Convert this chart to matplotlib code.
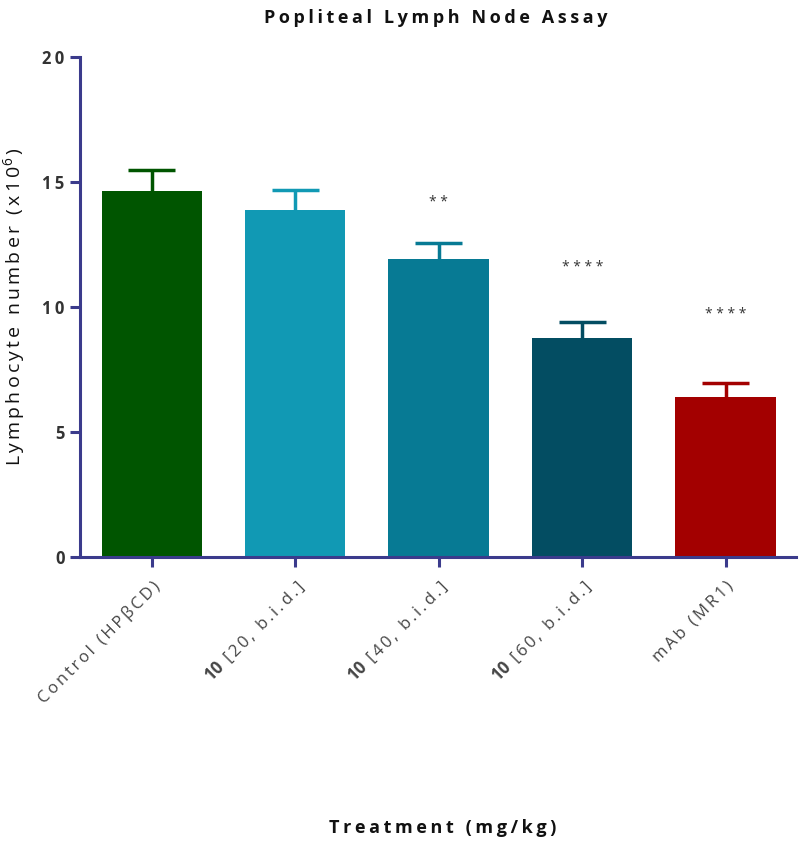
import matplotlib.pyplot as plt

# Datos
groups = ['Control (HPβCD)', '[20, b.i.d.]', '[40, b.i.d.]', '[60, b.i.d.]', 'mAb (MR1)']
bold_prefix = ['', '10', '10', '10', '']
means = [14.65, 13.9, 11.92, 8.76, 6.4]
sem = [0.85, 0.78, 0.64, 0.64, 0.56]
stars = ['', '', '**', '****', '****']
star_y = [0, 0, 14.2, 11.6, 9.7]
colors = ['#005500', '#1199b4', '#077a94', '#034d62', '#a30000']

plt.rcParams['font.family'] = ['Open Sans', 'DejaVu Sans']
plt.rcParams['mathtext.fontset'] = 'custom'
plt.rcParams['mathtext.bf'] = 'Open Sans:bold'
plt.rcParams['mathtext.rm'] = 'Open Sans'


def spaced(s):
    # espaciado entre letras como en el original
    return '\u2009'.join(s)


axis_color = '#3b3b8c'
text_color = '#333333'

fig = plt.figure(figsize=(8, 8.55), dpi=100)
ax = fig.add_axes([0.1, 0.3485, 0.895, 0.5848])

x = list(range(len(groups)))
ax.bar(x, means, width=0.7, color=colors, zorder=2)
tops = [m + e for m, e in zip(means, sem)]
# barras de error solo hacia arriba
ax.vlines(x, means, tops, colors=colors, linewidth=2.5, zorder=1)
ax.hlines(tops, [i - 0.165 for i in x], [i + 0.165 for i in x], colors=colors,
          linewidth=2.5, zorder=1)
for i in x:
    if stars[i]:
        ax.text(i, star_y[i], ' '.join(stars[i]), ha='center', va='center',
                fontsize=10, color=text_color)

labels = []
for p, g in zip(bold_prefix, groups):
    if p:
        labels.append('$\\mathbf{' + p + '}$\u2009 ' + spaced(g))
    else:
        labels.append(spaced(g))

ax.set_xlim(-0.5, 4.49)
ax.set_ylim(0, 20)
ax.set_yticks([0, 5, 10, 15, 20])
ax.set_xticks(x)
ax.set_xticklabels(labels, rotation=45, ha='right', rotation_mode='anchor',
                   fontsize=12, color='#444444')
ax.set_yticklabels([spaced(str(v)) for v in [0, 5, 10, 15, 20]])
for lab in ax.get_yticklabels():
    lab.set_fontweight('bold')
    lab.set_fontsize(12)
    lab.set_color(text_color)

for s in ['top', 'right']:
    ax.spines[s].set_visible(False)
for s in ['left', 'bottom']:
    ax.spines[s].set_color(axis_color)
    ax.spines[s].set_linewidth(2.2)
ax.tick_params(axis='both', colors=axis_color, width=2.2, length=7)
ax.tick_params(axis='x', labelcolor='#444444', pad=8)
ax.tick_params(axis='y', labelcolor=text_color, pad=4)

ax.set_ylabel(spaced('Lymphocyte number (x10') + '$^6$\u2009)', fontsize=14,
              color='#111111', labelpad=10)
fig.text(0.545, 0.99, spaced('Popliteal Lymph Node Assay'), ha='center', va='top',
         fontsize=13, fontweight='bold', color='#111111')
fig.text(0.553, 0.032, spaced('Treatment (mg/kg)'), ha='center', va='center',
         fontsize=13, fontweight='bold', color='#111111')

fig.savefig('out.png', dpi=100)
